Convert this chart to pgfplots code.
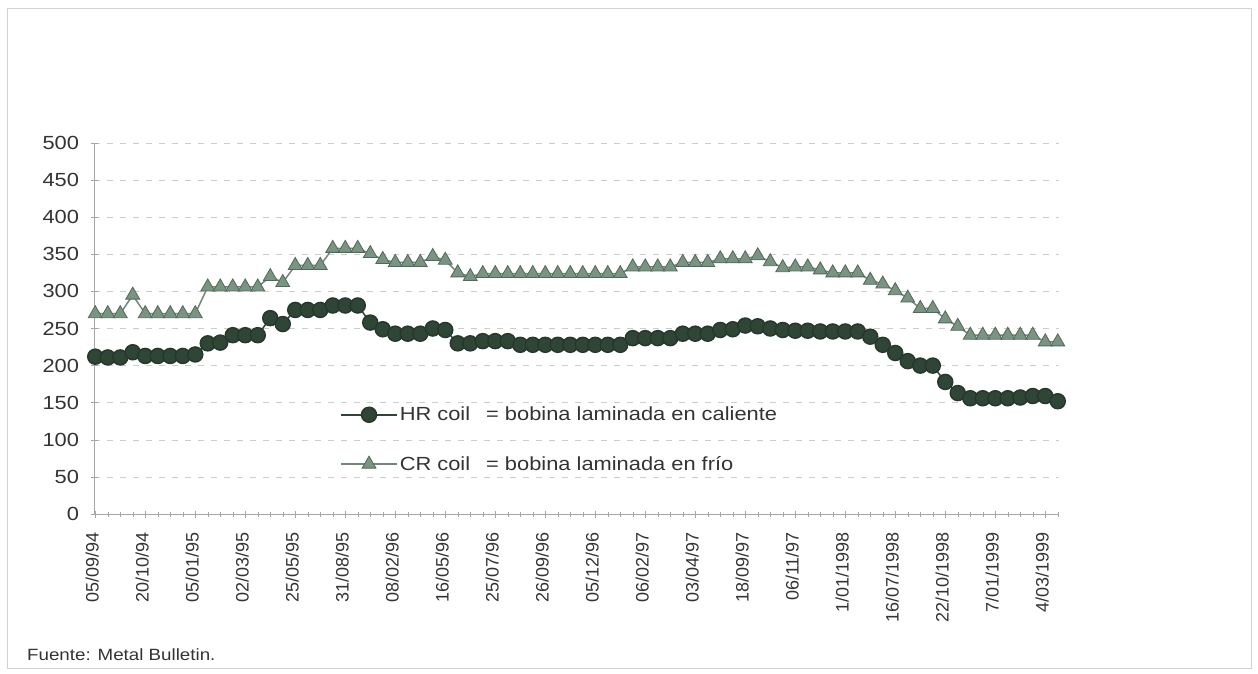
\documentclass[border=0pt]{standalone}
\usepackage{fontspec}
\setmainfont{Liberation Sans}[FakeStretch=1.15]
\newfontfamily\xlabfont{Liberation Sans}
\usepackage{pgfplots}
\usepackage{pgfplotstable}
\pgfplotsset{compat=1.18}
\definecolor{hrc}{HTML}{2F4637}
\definecolor{crfill}{HTML}{7A9482}
\definecolor{credge}{HTML}{50685A}
\definecolor{txt}{HTML}{333333}
\pgfplotstableread{
x hr cr
0 212 270
1 211 270
2 211 270
3 218 295
4 213 270
5 213 270
6 213 270
7 213 270
8 215 270
9 230 306
10 231 306
11 241 306
12 241 306
13 241 306
14 264 320
15 256 312
16 275 335
17 275 335
18 275 335
19 281 358
20 281 358
21 281 358
22 258 351
23 249 343
24 243 339
25 243 339
26 243 339
27 250 347
28 248 342
29 230 325
30 230 320
31 233 324
32 233 324
33 233 324
34 228 324
35 228 324
36 228 324
37 228 324
38 228 324
39 228 324
40 228 324
41 228 324
42 228 324
43 237 333
44 237 333
45 237 333
46 237 333
47 243 339
48 243 339
49 243 339
50 248 344
51 249 344
52 254 344
53 253 348
54 250 340
55 248 332
56 247 333
57 247 333
58 246 329
59 246 325
60 246 325
61 246 325
62 239 315
63 228 310
64 217 301
65 206 291
66 200 277
67 200 277
68 178 263
69 163 253
70 156 241
71 156 241
72 156 241
73 156 241
74 157 241
75 159 241
76 159 232
77 152 232
}\data
\begin{document}
\begin{tikzpicture}
\useasboundingbox (0,0) rectangle (1258pt,-674pt);
\draw[gray!35, line width=0.8pt] (7pt,-8pt) rectangle (1251pt,-668pt);
\begin{axis}[
  scale only axis,
  width=965pt, height=371pt,
  at={(94pt,-514pt)}, anchor=south west,
  xmin=-0.1, xmax=77.1, ymin=0, ymax=500,
  axis lines*=left,
  axis line style={gray!70, line width=0.6pt},
  ytick={0,50,...,500},
  /pgf/number format/assume math mode=true,
  yticklabel style={font=\fontsize{19}{22}\selectfont, text=txt, xshift=-8pt},
  ymajorgrids,
  grid style={gray!40, dash pattern=on 6pt off 7pt, line width=0.6pt},
  xtick={0,4,...,76},
  minor xtick={0,...,77},
  xticklabels={05/09/94,20/10/94,05/01/95,02/03/95,25/05/95,31/08/95,08/02/96,16/05/96,25/07/96,26/09/96,05/12/96,06/02/97,03/04/97,18/09/97,06/11/97,1/01/1998,16/07/1998,22/10/1998,7/01/1999,4/03/1999},
  xticklabel style={rotate=90, anchor=east, font=\xlabfont\fontsize{18}{22}\selectfont, text=txt, xshift=-11pt, yshift=3pt},
  tick align=center,
  major tick length=7pt, minor tick length=5pt,
  tick style={gray!70, line width=0.5pt},
  legend style={draw=none, fill=none, at={(0.255,0.294)}, anchor=north west,
    font=\fontsize{19}{22}\selectfont, text=txt, row sep=30pt, inner sep=0pt},
  legend cell align=left,
  legend image code/.code={\draw[mark repeat=2,mark phase=2,#1] plot coordinates {(0pt,0pt)(28pt,0pt)(56pt,0pt)};},
]
\addplot[color=hrc, line width=1.5pt, mark=*, mark size=7.5pt,
  mark options={fill=hrc, draw=hrc!80!black}] table[x=x,y=hr]{\data};
\addlegendentry{HR coil\hspace{16pt}= bobina laminada en caliente}
\addplot[color=credge!80!white, line width=1.5pt, mark=triangle*, mark size=8pt,
  mark options={fill=crfill, draw=credge, line width=0.8pt}] table[x=x,y=cr]{\data};
\addlegendentry{CR coil\hspace{16pt}= bobina laminada en frío}
\end{axis}
\node[anchor=base west, font=\fontsize{16.3}{19}\selectfont, text=txt, inner sep=0pt] at (27pt,-660pt) {Fuente: Metal Bulletin.};
\end{tikzpicture}
\end{document}
